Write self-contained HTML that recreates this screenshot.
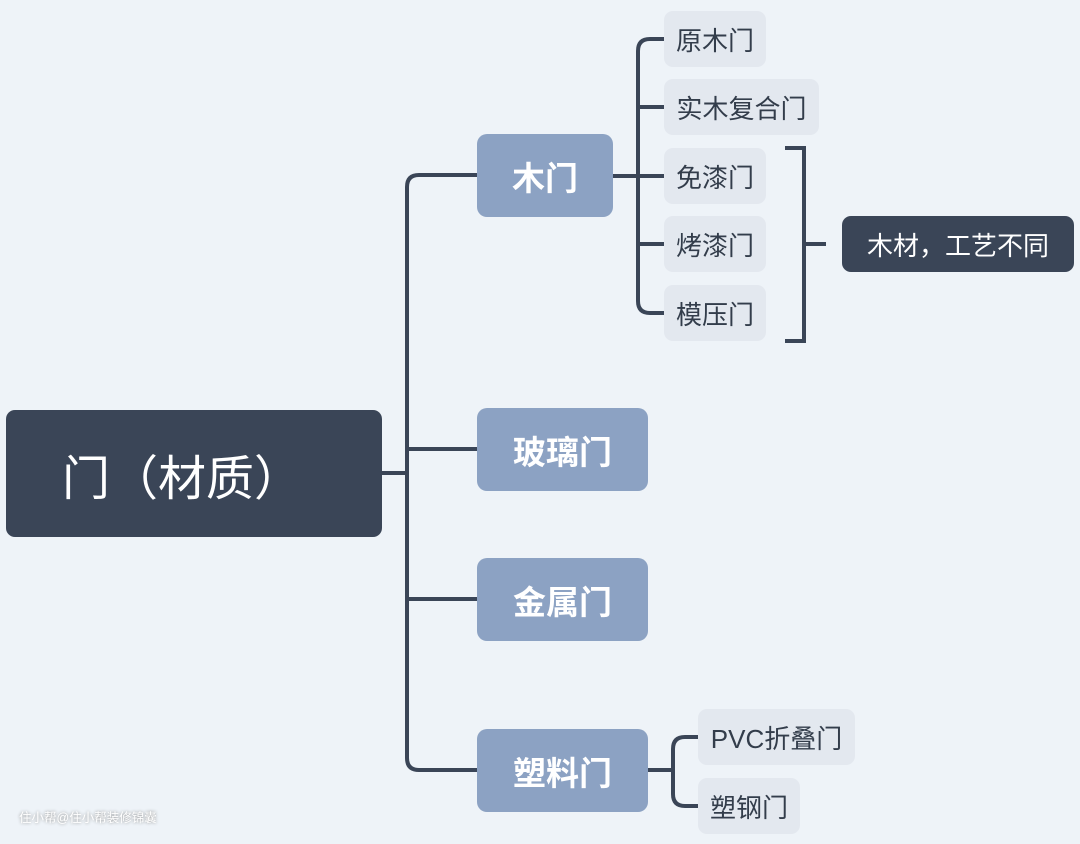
<!DOCTYPE html>
<html><head><meta charset="utf-8"><style>
body{margin:0;width:1080px;height:844px;background:#eef3f8;position:relative;overflow:hidden;font-family:"Liberation Sans","Noto Sans CJK SC",sans-serif;}
.b{position:absolute;display:flex;align-items:center;justify-content:center;box-sizing:border-box;white-space:nowrap;}
.root{left:6px;top:410px;width:376px;height:127px;background:#3a4557;border-radius:9px;color:#fff;font-size:48px;justify-content:flex-start;padding-left:56px;}
.l1{background:#8ca2c3;border-radius:10px;color:#fff;font-size:33px;font-weight:bold;}
.l2{background:#e3e8ef;border-radius:9px;color:#333d4b;font-size:26px;}
.dk{background:#3a4557;border-radius:9px;color:#fff;font-size:26px;}
svg{position:absolute;left:0;top:0}
.wm{position:absolute;left:19px;top:807px;font-size:12.5px;color:#fff;text-shadow:0 0 3px #888;}
</style></head><body>
<svg width="1080" height="844" fill="none" stroke="#3a4557" stroke-width="4">
<path d="M382 473H407"/>
<path d="M477 175H419Q407 175 407 187V758Q407 770 419 770H477"/>
<path d="M407 449Q407 449 419 449H477"/>
<path d="M407 599Q407 599 419 599H477"/>
<path d="M613 176H664"/>
<path d="M664 39H650Q638 39 638 51V301Q638 313 650 313H664"/>
<path d="M638 107H664M638 244H664"/>
<path d="M785 148H804V341H785M804 244H826"/>
<path d="M648 770H673"/>
<path d="M698 737H685Q673 737 673 749V794Q673 806 685 806H698"/>
</svg>
<div class="b root">门（材质）</div>
<div class="b l1" style="left:477px;top:134px;width:136px;height:83px">木门</div>
<div class="b l1" style="left:477px;top:408px;width:171px;height:83px">玻璃门</div>
<div class="b l1" style="left:477px;top:558px;width:171px;height:83px">金属门</div>
<div class="b l1" style="left:477px;top:729px;width:171px;height:83px">塑料门</div>
<div class="b l2" style="left:664px;top:11px;width:102px;height:56px">原木门</div>
<div class="b l2" style="left:664px;top:79px;width:155px;height:56px">实木复合门</div>
<div class="b l2" style="left:664px;top:148px;width:102px;height:56px">免漆门</div>
<div class="b l2" style="left:664px;top:216px;width:102px;height:56px">烤漆门</div>
<div class="b l2" style="left:664px;top:285px;width:102px;height:56px">模压门</div>
<div class="b dk" style="left:842px;top:216px;width:232px;height:56px">木材，工艺不同</div>
<div class="b l2" style="left:698px;top:709px;width:157px;height:56px">PVC折叠门</div>
<div class="b l2" style="left:698px;top:778px;width:102px;height:56px">塑钢门</div>
<div class="wm">住小帮@住小帮装修锦囊</div>
</body></html>
